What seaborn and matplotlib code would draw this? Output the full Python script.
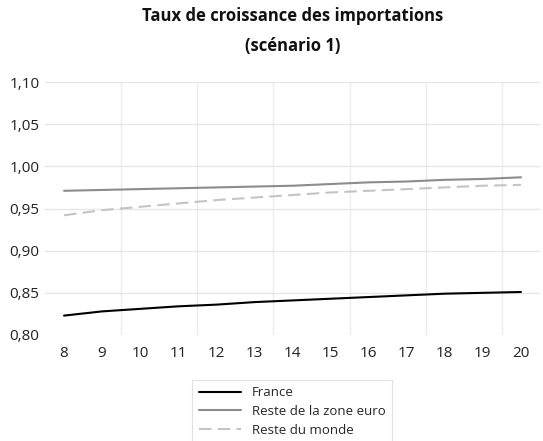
import matplotlib
matplotlib.use("Agg")
import matplotlib.pyplot as plt
import pandas as pd
import seaborn as sns

# années (axe des abscisses)
annees = [8, 9, 10, 11, 12, 13, 14, 15, 16, 17, 18, 19, 20]
france = [0.823, 0.828, 0.831, 0.834, 0.836, 0.839, 0.841, 0.843, 0.845, 0.847, 0.849, 0.850, 0.851]
zone_euro = [0.971, 0.972, 0.973, 0.974, 0.975, 0.976, 0.977, 0.979, 0.981, 0.982, 0.984, 0.985, 0.987]
reste_monde = [0.942, 0.948, 0.952, 0.956, 0.960, 0.963, 0.966, 0.969, 0.971, 0.973, 0.975, 0.977, 0.978]
series = ["France", "Reste de la zone euro", "Reste du monde"]
yticks = [0.80, 0.85, 0.90, 0.95, 1.00, 1.05, 1.10]

df = pd.DataFrame({"annee": annees * 3,
                   "valeur": france + zone_euro + reste_monde,
                   "serie": [series[0]] * 13 + [series[1]] * 13 + [series[2]] * 13})

sns.set_style("white")
plt.rcParams["font.family"] = ["Open Sans", "DejaVu Sans"]

fig = plt.figure(figsize=(5.43, 4.41), dpi=100)
ax = fig.add_axes([45 / 543, 1 - 335 / 441, 495 / 543, 253 / 441])

sns.lineplot(data=df, x="annee", y="valeur", hue="serie", style="serie",
             palette={series[0]: "black", series[1]: "#8c8c8c", series[2]: "#c4c4c4"},
             dashes={series[0]: "", series[1]: "", series[2]: (6, 3)},
             linewidth=1.5, ax=ax)

ax.set_xlim(7.5, 20.5)
ax.set_ylim(0.80, 1.10)
ax.set_xticks(annees)
ax.set_xticks([9.5, 11.5, 13.5, 15.5, 17.5, 19.5], minor=True)
ax.set_yticks(yticks)
ax.set_yticklabels([f"{v:.2f}".replace(".", ",") for v in yticks])
ax.grid(False)
ax.grid(True, which="minor", axis="x", color="#ebebeb", linewidth=1)
ax.grid(True, which="major", axis="y", color="#e6e6e6", linewidth=1)
ax.set_axisbelow(True)
ax.tick_params(axis="both", which="both", length=0, labelsize=11, colors="#222222")
ax.tick_params(axis="x", pad=8)
ax.tick_params(axis="y", pad=4)
for s in ax.spines.values():
    s.set_visible(False)
ax.set_xlabel("")
ax.set_ylabel("")

ax.set_title("Taux de croissance des importations\n(scénario 1)", fontsize=12,
             fontweight="bold", linespacing=1.9, pad=22, color="#111111")

leg = ax.legend(loc="upper center", bbox_to_anchor=((292 - 45) / 495, -0.15), frameon=True,
                fontsize=9.5, handlelength=3.2, labelspacing=0.45, borderpad=0.5,
                fancybox=False, edgecolor="#d9d9d9")
leg.get_frame().set_linewidth(0.8)

fig.savefig("out.png", dpi=100)
